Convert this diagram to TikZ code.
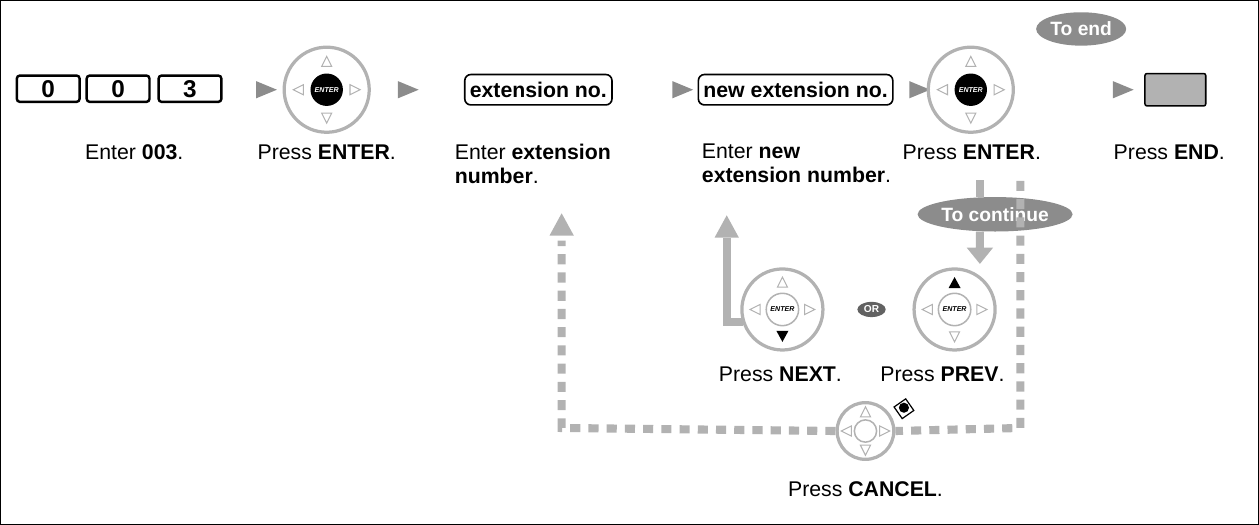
\documentclass[tikz,border=0pt]{standalone}
\usepackage{fontspec}
\setmainfont{Liberation Sans}
\usetikzlibrary{arrows.meta,shapes.geometric}
\definecolor{lg}{gray}{0.70}
\definecolor{mg}{gray}{0.55}
\tikzset{
 key/.style={draw,line width=2.4pt,rounded corners=3pt,minimum width=62pt,minimum height=26pt,inner sep=0pt,font=\bfseries\fontsize{24}{24}\selectfont},
 fieldbox/.style={draw,line width=1.6pt,rounded corners=6pt,minimum height=30pt,inner sep=5pt,font=\bfseries\fontsize{21}{21}\selectfont},
 nextarrow/.style={fill=mg,isosceles triangle,minimum width=17pt,minimum height=15pt,inner sep=0pt},
 lbl/.style={font=\fontsize{21}{24}\selectfont,align=left},
 tag/.style={ellipse,fill=mg,text=white,font=\bfseries\fontsize{19}{19}\selectfont,inner sep=1pt},
 pad/.style={circle,draw=lg,line width=3.2pt,minimum size=#1,inner sep=0pt},
 tri/.style={draw=lg,line width=1pt},
 dashline/.style={lg,line width=8pt,dash pattern=on 10pt off 8pt},
}
\newcommand{\padtris}[3]{%
 \begin{scope}[shift={#1}]
  \ifnum#3=2 \fill (0,-#2-6)--(-6,-#2+5)--(6,-#2+5)--cycle; \else \draw[tri] (0,-#2-6)--(-5,-#2+4)--(5,-#2+4)--cycle; \fi
  \ifnum#3=1 \fill (0,#2+6)--(-6,#2-5)--(6,#2-5)--cycle; \else \draw[tri] (0,#2+6)--(-5,#2-4)--(5,#2-4)--cycle; \fi
  \draw[tri] (-#2-6,0)--(-#2+4,-5)--(-#2+4,5)--cycle;
  \draw[tri] (#2+6,0)--(#2-4,-5)--(#2-4,5)--cycle;
 \end{scope}}
\begin{document}
\begin{tikzpicture}[x=1pt,y=-1pt]
\draw[line width=1.2pt] (8,8) rectangle (1250,525);
% top row
\node[key] (k1) at (55,95) {0};
\node[key] (k2) at (124,95) {0};
\node[key] (k3) at (195,95) {3};
\node[nextarrow] (a1) at (266,96) {};
\node[pad=84pt] (p1) at (330,96) {};
\node[circle,fill=black,text=white,minimum size=32pt,inner sep=0pt,font=\bfseries\itshape\fontsize{7}{7}\selectfont] at (330,96) {ENTER};
\padtris{(330,96)}{27}{0}
\node[nextarrow] (a2) at (406,96) {};
\node[fieldbox] (f1) at (539,96) {extension no.};
\node[nextarrow] (a3) at (677,96) {};
\node[fieldbox] (f2) at (793,96) {new extension no.};
\node[nextarrow] (a4) at (911,96) {};
\node[pad=84pt] (p2) at (966,96) {};
\node[circle,fill=black,text=white,minimum size=32pt,inner sep=0pt,font=\bfseries\itshape\fontsize{7}{7}\selectfont] at (966,96) {ENTER};
\padtris{(966,96)}{27}{0}
\node[tag,minimum width=80pt,minimum height=33pt] (te) at (1075,36) {To end};
\node[nextarrow] (a5) at (1112,96) {};
\node[draw,fill=lg,line width=1.5pt,rounded corners=2pt,minimum width=60pt,minimum height=32pt] (endk) at (1168,96) {};
% labels
\node[lbl] (l1) at (140,158) {Enter \textbf{003}.};
\node[lbl] (l2) at (330,158) {Press \textbf{ENTER}.};
\node[lbl,anchor=north west] (l3) at (453,146) {Enter \textbf{extension}\\\textbf{number}.};
\node[lbl,anchor=north west] (l4) at (697,146) {Enter \textbf{new}\\\textbf{extension number}.};
\node[lbl] (l5) at (967,158) {Press \textbf{ENTER}.};
\node[lbl] (l6) at (1162,158) {Press \textbf{END}.};
% continue
\node[tag,minimum width=150pt,minimum height=34pt] (tc) at (990,219) {To continue};
\fill[lg] (971,185) rectangle (979,202);
\fill[lg] (971,236) rectangle (979,252) (962,252)--(988,252)--(975,268)--cycle;
% pads NEXT PREV
\node[pad=80pt] (pn) at (780,313) {};
\node[circle,draw=lg,line width=1.5pt,minimum size=32pt,inner sep=0pt,font=\itshape\bfseries\fontsize{7}{7}\selectfont] at (780,313) {ENTER};
\padtris{(780,313)}{26}{1}
\node[ellipse,fill=mg!70!black,text=white,font=\bfseries\fontsize{10}{10}\selectfont,inner sep=1pt,minimum width=28pt,minimum height=15pt] (or) at (868,313) {OR};
\node[pad=80pt] (pp) at (950,313) {};
\node[circle,draw=lg,line width=1.5pt,minimum size=32pt,inner sep=0pt,font=\itshape\bfseries\fontsize{7}{7}\selectfont] at (950,313) {ENTER};
\padtris{(950,313)}{26}{2}
\node[lbl] (l7) at (778,377) {Press \textbf{NEXT}.};
\node[lbl] (l8) at (938,377) {Press \textbf{PREV}.};
% solid return arrow
\coordinate (nfoot) at (741,325);
\coordinate (ntip) at (725,220);
\draw[lg,line width=8pt] (nfoot) -- (725,325) -- (725,242);
\fill[lg] (713,242)--(737,242)--(ntip)--cycle;
% cancel
\node[pad=56pt] (pc) at (862,433) {};
\node[circle,draw=lg,line width=1.5pt,minimum size=22pt,inner sep=0pt] at (862,433) {};
\padtris{(862,433)}{18}{0}
\draw[line width=1.2pt,fill=white,rotate around={35:(900,411)}] (893,404) rectangle (907,418);
\fill (900,410) circle (5);
\node[lbl] (l9) at (862,490) {Press \textbf{CANCEL}.};
% dashed loop
\coordinate (dtop) at (1015,186);
\coordinate (dbr) at (1015,430);
\coordinate (dbl) at (562,430);
\coordinate (dtip) at (562,218);
\draw[dashline] (dtop) -- (dbr) -- (pc.east);
\draw[dashline] (pc.west) -- (dbl) -- (562,245);
\fill[lg] (550,240)--(574,240)--(dtip)--cycle;
\end{tikzpicture}
\end{document}
